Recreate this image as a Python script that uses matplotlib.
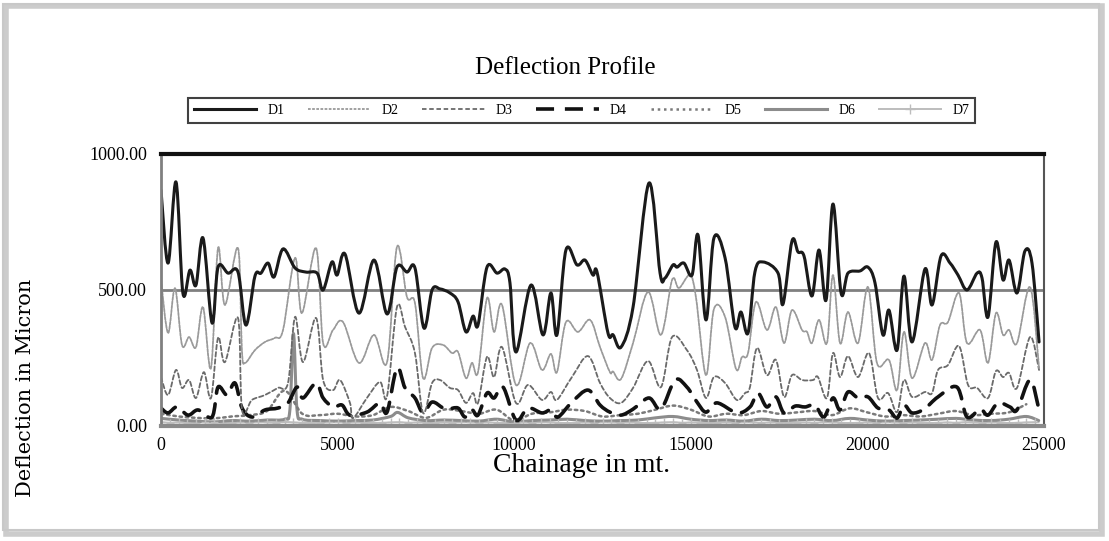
import numpy as np
import matplotlib
matplotlib.use("Agg")
import matplotlib.pyplot as plt
from matplotlib.patches import Rectangle, PathPatch
from matplotlib.path import Path
from matplotlib.lines import Line2D

# deflection profile along the chainage
d1_x = [0, 200, 425, 620, 820, 990, 1190, 1445, 1615, 1900,
        2180, 2405, 2660, 2830, 3030, 3200, 3455, 3795, 4100, 4420,
        4590, 4840, 4985, 5210, 5605, 6030, 6400, 6680, 6965, 7190,
        7445, 7675, 7900, 8180, 8410, 8635, 8835, 8975, 9230, 9515,
        9740, 9880, 10050, 10475, 10815, 11040, 11210, 11465, 11780, 12005,
        12230, 12345, 12655, 12800, 13025, 13365, 13815, 14130, 14270, 14495,
        14610, 14805, 15035, 15205, 15430, 15655, 15970, 16250, 16420, 16620,
        16815, 17045, 17470, 17610, 17865, 18035, 18205, 18430, 18630, 18830,
        19025, 19255, 19450, 19790, 20015, 20215, 20440, 20610, 20840, 21035,
        21265, 21630, 21830, 22085, 22340, 22565, 22820, 23105, 23245, 23415,
        23640, 23840, 24010, 24235, 24460, 24660, 24860]
d1_y = [867, 599, 897, 489, 573, 518, 691, 379, 584, 562,
        566, 371, 551, 562, 599, 548, 651, 581, 566, 562,
        500, 603, 555, 632, 415, 610, 412, 584, 566, 581,
        360, 500, 504, 489, 456, 346, 404, 371, 584, 562,
        577, 526, 272, 518, 335, 489, 335, 647, 592, 610,
        555, 566, 342, 335, 290, 437, 893, 562, 544, 592,
        584, 599, 555, 702, 390, 691, 618, 364, 419, 342,
        566, 603, 562, 448, 680, 640, 625, 478, 647, 463,
        816, 489, 562, 570, 584, 526, 335, 426, 279, 551,
        309, 577, 445, 625, 599, 555, 500, 562, 544, 401,
        676, 537, 610, 489, 643, 599, 309]

d2_x = [0, 200, 395, 595, 795, 990, 1190, 1415, 1615, 1810,
        2180, 2290, 2380, 2660, 2945, 3225, 3455, 3795, 3990, 4390,
        4590, 4870, 5155, 5605, 6030, 6400, 6680, 6965, 7190, 7420,
        7675, 7985, 8240, 8410, 8635, 8805, 8975, 9230, 9430, 9655,
        10050, 10450, 10785, 11040, 11210, 11465, 11805, 12150, 12430, 12710,
        12800, 13025, 13365, 13790, 14155, 14470, 14665, 14975, 15145, 15430,
        15655, 15970, 16280, 16450, 16620, 16845, 17155, 17410, 17640, 17865,
        18150, 18290, 18430, 18630, 18855, 19025, 19225, 19450, 19735, 20015,
        20270, 20610, 20840, 21035, 21265, 21630, 21830, 22055, 22280, 22595,
        22820, 23190, 23415, 23640, 23840, 24010, 24235, 24605, 24860]
d2_y = [537, 342, 507, 298, 327, 290, 437, 213, 654, 445,
        654, 279, 232, 279, 309, 324, 353, 618, 415, 654,
        305, 353, 382, 232, 335, 235, 658, 474, 452, 176,
        287, 298, 268, 272, 176, 232, 198, 470, 346, 445,
        151, 305, 206, 265, 198, 382, 346, 390, 290, 198,
        200, 173, 305, 493, 335, 537, 507, 555, 474, 187,
        430, 401, 210, 254, 268, 456, 353, 437, 305, 426,
        353, 346, 305, 390, 305, 555, 305, 419, 305, 511,
        232, 243, 132, 346, 176, 305, 243, 371, 382, 489,
        305, 353, 232, 415, 335, 353, 305, 511, 213]

d3_x = [0, 200, 425, 595, 795, 990, 1215, 1415, 1615, 1810,
        2180, 2295, 2575, 2945, 3310, 3595, 3795, 4020, 4390, 4590,
        4870, 5070, 5350, 5435, 5830, 6200, 6400, 6680, 6910, 7190,
        7420, 7675, 7900, 8180, 8410, 8635, 8835, 8975, 9230, 9430,
        9655, 10050, 10390, 10785, 11040, 11210, 11635, 12090, 12430, 12710,
        13025, 13365, 13790, 14155, 14470, 14890, 15175, 15430, 15655, 15970,
        16300, 16535, 16675, 16875, 17155, 17410, 17640, 17865, 18150, 18460,
        18600, 18855, 19025, 19225, 19450, 19735, 20045, 20300, 20585, 20840,
        21035, 21265, 21630, 21830, 22000, 22280, 22595, 22850, 23105, 23415,
        23640, 23840, 24010, 24235, 24605, 24860]
d3_y = [180, 114, 206, 140, 169, 103, 198, 103, 324, 235,
        397, 59, 96, 114, 140, 158, 401, 235, 397, 169,
        132, 169, 85, 29, 103, 162, 110, 437, 364, 268,
        48, 158, 169, 140, 132, 85, 121, 85, 254, 180,
        290, 85, 151, 96, 125, 96, 180, 257, 158, 103,
        85, 140, 239, 143, 327, 279, 206, 103, 180, 158,
        96, 121, 143, 287, 187, 243, 107, 187, 169, 169,
        180, 103, 268, 180, 257, 180, 268, 103, 121, 51,
        169, 107, 125, 121, 206, 224, 294, 151, 140, 103,
        202, 180, 195, 140, 327, 206]

d4_x = [0, 200, 455, 765, 1050, 1445, 1615, 1870, 2095, 2295,
        2575, 2945, 3310, 3595, 3850, 4020, 4390, 4590, 4870, 5125,
        5350, 5830, 6200, 6400, 6680, 6910, 7190, 7420, 7675, 7985,
        8125, 8410, 8605, 8805, 8975, 9230, 9430, 9685, 10050, 10390,
        10785, 11040, 11240, 11635, 12090, 12430, 12710, 13025, 13365, 13815,
        14155, 14555, 14890, 15175, 15430, 15740, 16310, 16675, 16900, 17155,
        17410, 17640, 17950, 18235, 18515, 18770, 19025, 19225, 19450, 19735,
        20015, 20300, 20610, 20840, 21035, 21265, 21605, 22000, 22535, 22820,
        23190, 23415, 23700, 24035, 24235, 24605, 24860]
d4_y = [66, 48, 70, 40, 59, 33, 143, 114, 158, 66,
        33, 59, 66, 85, 143, 103, 158, 103, 70, 77,
        40, 51, 85, 51, 213, 140, 103, 48, 88, 66,
        62, 66, 33, 59, 40, 121, 103, 143, 22, 66,
        48, 59, 33, 88, 132, 77, 51, 40, 62, 103,
        62, 169, 143, 88, 51, 85, 48, 70, 121, 70,
        107, 48, 73, 70, 77, 33, 103, 59, 125, 103,
        107, 66, 59, 29, 77, 48, 62, 107, 143, 33,
        62, 40, 85, 70, 59, 169, 59]

d5_x = list(range(0, 25000, 500))
d5_y = [45, 35, 30, 28, 35, 40, 55, 130, 45, 40,
        45, 35, 40, 70, 55, 30, 60, 55, 45, 60,
        20, 45, 50, 60, 55, 35, 40, 45, 60, 75,
        60, 35, 45, 40, 55, 45, 50, 55, 40, 65,
        50, 35, 40, 35, 45, 55, 40, 45, 50, 80]

d6_x = [0, 500, 1000, 1500, 2000, 2500, 3000, 3500, 3650, 3750,
        3850, 4000, 4500, 5000, 5500, 6000, 6500, 6700, 7000, 7500,
        8000, 8500, 9000, 9500, 10000, 10500, 11000, 11500, 12000, 12500,
        13000, 13500, 14000, 14500, 15000, 15500, 16000, 16500, 17000, 17500,
        18000, 18500, 19000, 19500, 20000, 20500, 21000, 21500, 22000, 22500,
        23000, 23500, 24000, 24500, 24850]
d6_y = [28, 22, 18, 15, 20, 18, 22, 25, 60, 340,
        60, 25, 20, 18, 20, 22, 35, 50, 30, 20,
        22, 20, 18, 25, 15, 20, 22, 25, 20, 18,
        20, 22, 30, 35, 25, 20, 22, 18, 25, 20,
        22, 25, 20, 28, 22, 18, 20, 22, 25, 28,
        22, 20, 25, 35, 20]

d7_x = list(range(0, 25000, 250))
d7_y = [14, 12, 13, 11, 12, 14, 13, 12, 11, 13,
        12, 14, 13, 12, 15, 13, 12, 11, 12, 13,
        14, 12, 13, 12, 11, 12, 13, 14, 12, 13,
        12, 11, 13, 12, 14, 13, 12, 13, 12, 11,
        12, 13, 12, 14, 13, 12, 11, 12, 13, 12,
        14, 13, 12, 13, 12, 11, 12, 13, 14, 12,
        13, 12, 11, 12, 13, 12, 14, 13, 12, 13,
        12, 11, 12, 13, 12, 14, 13, 12, 11, 12,
        13, 12, 14, 13, 12, 13, 12, 11, 12, 13,
        12, 14, 13, 12, 13, 12, 11, 12, 13, 14]

plt.rcParams["font.family"] = ["Liberation Serif", "DejaVu Serif"]


# Excel-like smoothed line: a bezier path through the read points
def smooth_path(xs, ys):
    p = np.column_stack([xs, ys]).astype(float)
    verts = [p[0]]
    codes = [Path.MOVETO]
    n = len(p)
    for i in range(n - 1):
        p0 = p[i - 1] if i > 0 else p[i]
        p3 = p[i + 2] if i + 2 < n else p[i + 1]
        c1 = p[i] + (p[i + 1] - p0) / 6
        c2 = p[i + 1] - (p3 - p[i]) / 6
        verts += [c1, c2, p[i + 1]]
        codes += [Path.CURVE4] * 3
    return Path(verts, codes)


W, H = 1109, 541
fig = plt.figure(figsize=(W / 100, H / 100), dpi=100)

# outer frame with a soft shadow
fig.patches.append(Rectangle((6 / W, 1 - 534 / H), 1096 / W, 528 / H,
                             transform=fig.transFigure, fill=False,
                             edgecolor="#9a9a9a", lw=4, alpha=0.5))
fig.patches.append(Rectangle((3 / W, 1 - 530 / H), 1096 / W, 526 / H,
                             transform=fig.transFigure, fill=False,
                             edgecolor="#c8c8c8", lw=1.5))

ax = fig.add_axes([161 / W, 1 - 426 / H, 883 / W, 272 / H])

series = [
    ("D7", d7_x, d7_y, dict(color="#bdbdbd", lw=1.4, ls="-")),
    ("D6", d6_x, d6_y, dict(color="#8c8c8c", lw=2.2, ls="-")),
    ("D5", d5_x, d5_y, dict(color="#7a7a7a", lw=1.8, ls=(0, (1, 1.5)))),
    ("D4", d4_x, d4_y, dict(color="#111111", lw=2.6, ls=(0, (5, 3)))),
    ("D3", d3_x, d3_y, dict(color="#6a6a6a", lw=1.3, ls=(0, (2.5, 1.5)))),
    ("D2", d2_x, d2_y, dict(color="#9a9a9a", lw=1.3, ls=(0, (1.5, 0.8)))),
    ("D1", d1_x, d1_y, dict(color="#1a1a1a", lw=2.2, ls="-")),
]

handles = {}
for name, xs, ys, st in series:
    patch = PathPatch(smooth_path(xs, ys), fill=False, edgecolor=st["color"],
                      lw=st["lw"], linestyle=st["ls"], capstyle="round",
                      joinstyle="round")
    ax.add_patch(patch)
    if name == "D7":
        ax.plot(xs, ys, ls="none", marker="+", ms=6, mew=1.0, color=st["color"])
        handles[name] = Line2D([], [], color=st["color"], lw=st["lw"],
                               marker="+", ms=7)
    else:
        handles[name] = Line2D([], [], color=st["color"], lw=st["lw"], ls=st["ls"])

ax.set_xlim(0, 25000)
ax.set_ylim(0, 1000)
ax.set_xticks([0, 5000, 10000, 15000, 20000, 25000])
ax.set_yticks([0, 500, 1000])
ax.set_yticklabels(["0.00", "500.00", "1000.00"])
ax.tick_params(length=0, labelsize=13, pad=10)
ax.tick_params(axis="x", pad=8)
ax.axhline(500, color="#808080", lw=2, zorder=0)

ax.spines["top"].set_color("#111111")
ax.spines["top"].set_linewidth(3)
ax.spines["right"].set_color("#555555")
ax.spines["right"].set_linewidth(1.5)
ax.spines["left"].set_color("#808080")
ax.spines["left"].set_linewidth(2)
ax.spines["bottom"].set_color("#8a8a8a")
ax.spines["bottom"].set_linewidth(3)

fig.text(565 / W, 1 - 68 / H, "Deflection Profile", ha="center", va="center", fontsize=18)
fig.text(582 / W, 1 - 466 / H, "Chainage in mt.", ha="center", va="center", fontsize=20)
fig.text(26 / W, 1 - 388 / H, "Deflection in Micron", ha="center", va="center",
         rotation=90, fontsize=15, family=["DejaVu Serif"])

order = ["D1", "D2", "D3", "D4", "D5", "D6", "D7"]
leg = fig.legend([handles[k] for k in order], order, ncol=7, mode="expand",
                 bbox_to_anchor=(188 / W, 1 - 128 / H, 787 / W, 35 / H),
                 loc="center", fancybox=False, fontsize=10, handlelength=4.5,
                 borderaxespad=0)
leg.get_frame().set_edgecolor("#111111")
leg.get_frame().set_linewidth(1.5)

fig.savefig("out.png", dpi=100)
